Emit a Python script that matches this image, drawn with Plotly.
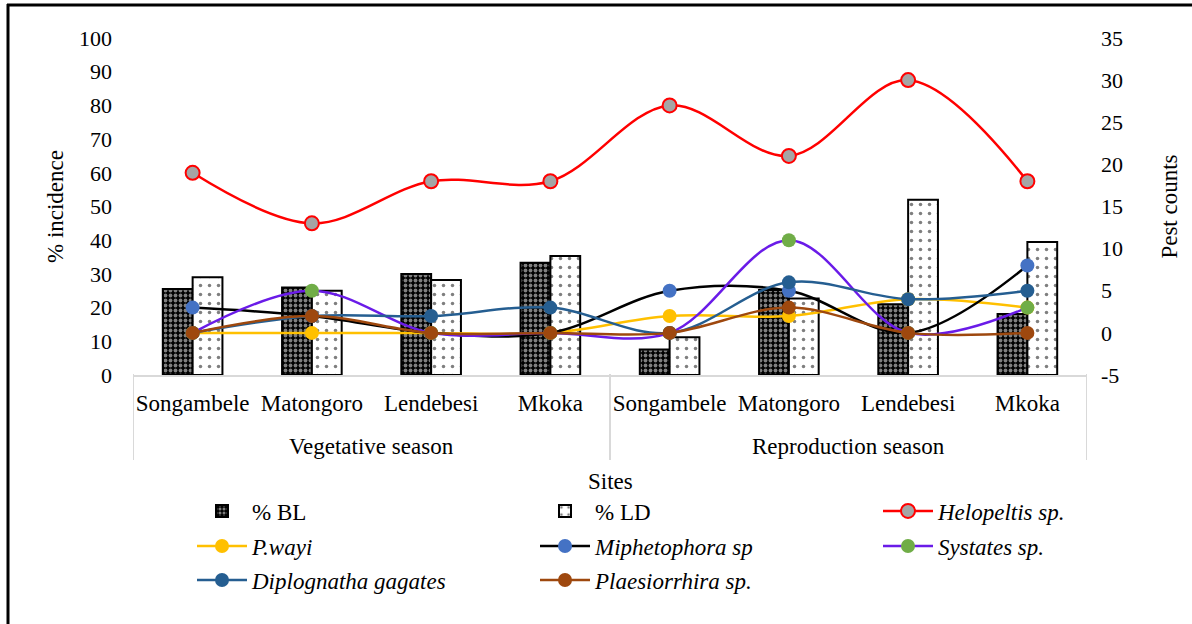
import plotly.graph_objects as go

seasons = ["Vegetative season"] * 4 + ["Reproduction season"] * 4
sites = ["Songambele", "Matongoro", "Lendebesi", "Mkoka"] * 2
bl = [25.5, 26, 30, 33.3, 7.6, 25.2, 21, 18.1]
ld = [29, 25, 28.2, 35.3, 11.2, 22.7, 52, 39.5]
helopeltis = [19, 13, 18, 18, 27, 21, 30, 18]
pwayi = [0, 0, 0, 0, 2, 2, 4, 3]
miphetophora = [3, 2, 0, 0, 5, 5, 0, 8]
systates = [0, 5, 0, 0, 0, 11, 0, 3]
diplognatha = [0, 2, 2, 3, 0, 6, 4, 5]
plaesiorrhira = [0, 2, 0, 0, 0, 3, 0, 0]
left_ticks = list(range(0, 101, 10))
right_ticks = list(range(-5, 36, 5))
right_ticktext = [str(v) for v in right_ticks]
season_names = ["Vegetative season", "Reproduction season"]

FONT = "Liberation Serif"
keys = [f"{s} | {t}" for s, t in zip(seasons, sites)]

# plot area in pixels
L, R, T, B = 133, 1087, 38, 375


def px(xp):
    return (xp - L) / (R - L)


def py(yp):
    return (B - yp) / (B - T)


fig = go.Figure()
fig.add_trace(go.Bar(
    x=keys, y=bl, name="% BL", legend="legend",
    marker=dict(color="black", line=dict(color="black", width=2),
                pattern=dict(shape=".", size=5, solidity=0.45,
                             fgcolor="white", bgcolor="black")),
))
fig.add_trace(go.Bar(
    x=keys, y=ld, name="% LD", legend="legend2",
    marker=dict(color="white", line=dict(color="black", width=2),
                pattern=dict(shape=".", size=9, solidity=0.12,
                             fgcolor="black", bgcolor="white")),
))

lines = [
    ("<i>Helopeltis sp.</i>", helopeltis, "#FF0000", "#A5A5A5", "#FF0000", "legend3"),
    ("<i>P.wayi</i>", pwayi, "#FFC000", "#FFC000", None, "legend4"),
    ("<i>Miphetophora sp</i>", miphetophora, "#000000", "#4472C4", None, "legend5"),
    ("<i>Systates sp.</i>", systates, "#6A1BE8", "#70AD47", None, "legend6"),
    ("<i>Diplognatha gagates</i>", diplognatha, "#255E91", "#255E91", None, "legend7"),
    ("<i>Plaesiorrhira sp.</i>", plaesiorrhira, "#9E480E", "#9E480E", None, "legend8"),
]
for name, vals, lc, mc, mlc, lg in lines:
    mk = dict(color=mc, size=14)
    if mlc:
        mk["line"] = dict(color=mlc, width=2)
    fig.add_trace(go.Scatter(
        x=keys, y=vals, name=name, yaxis="y2", legend=lg, mode="lines+markers",
        line=dict(color=lc, width=2.5, shape="spline", smoothing=1.0),
        marker=mk,
    ))

# legend layout: 3 columns x 3 rows
col_x = [192, 535, 878]
row_y = [511, 546, 580]
positions = [(0, 0), (1, 0), (2, 0), (0, 1), (1, 1), (2, 1), (0, 2), (1, 2)]
legend_names = ["legend"] + [f"legend{i}" for i in range(2, 9)]
legend_layout = {}
for lname, (c, r) in zip(legend_names, positions):
    legend_layout[lname] = dict(
        x=px(col_x[c]), y=py(row_y[r]), xanchor="left", yanchor="middle",
        bgcolor="rgba(0,0,0,0)", font=dict(family=FONT, size=23, color="black"),
        itemwidth=50, visible=True,
    )

annotations = [
    dict(text=season_names[0], x=1.5, xref="x", y=py(446), yref="paper",
         xanchor="center", yanchor="middle",
         showarrow=False, font=dict(family=FONT, size=23, color="black")),
    dict(text=season_names[1], x=5.5, xref="x", y=py(446), yref="paper",
         xanchor="center", yanchor="middle",
         showarrow=False, font=dict(family=FONT, size=23, color="black")),
    dict(text="Sites", x=0.5, xref="paper", y=py(481), yref="paper",
         xanchor="center", yanchor="middle",
         showarrow=False, font=dict(family=FONT, size=23, color="black")),
]

shapes = [
    dict(type="line", xref="paper", yref="paper",
         x0=px(8), x1=px(8), y0=py(4), y1=py(640),
         line=dict(color="black", width=3)),
    dict(type="line", xref="paper", yref="paper",
         x0=px(7), x1=px(1200), y0=py(5), y1=py(5),
         line=dict(color="black", width=3)),
]
for xv in [-0.5, 3.5, 7.5]:
    shapes.append(dict(type="line", xref="x", yref="paper",
                       x0=xv, x1=xv, y0=py(374), y1=py(460),
                       line=dict(color="#D9D9D9", width=2)))

fig.update_layout(
    width=1192, height=624,
    margin=dict(l=L, r=1192 - R, t=T, b=624 - B, autoexpand=False),
    paper_bgcolor="white", plot_bgcolor="white",
    font=dict(family=FONT, size=22, color="black"),
    showlegend=True,
    barmode="group", bargap=0.5, bargroupgap=0,
    xaxis=dict(
        type="category", tickvals=keys, ticktext=sites,
        range=[-0.5, 7.5], showgrid=False, zeroline=False,
        showline=True, linecolor="#D9D9D9", linewidth=2,
        ticks="", ticklabelstandoff=6,
        tickfont=dict(family=FONT, size=23, color="black"),
    ),
    yaxis=dict(
        range=[0, 100], tickvals=left_ticks, showgrid=False, zeroline=False,
        showline=False, ticks="", ticklabelstandoff=20,
        tickfont=dict(family=FONT, size=22, color="black"),
        title=dict(text="% incidence", font=dict(family=FONT, size=23), standoff=8),
    ),
    yaxis2=dict(
        range=[-5, 35], tickvals=right_ticks, ticktext=right_ticktext,
        overlaying="y", side="right",
        showgrid=False, zeroline=False, showline=False, ticks="",
        ticklabelstandoff=13,
        tickfont=dict(family=FONT, size=22, color="black"),
        title=dict(text="Pest counts", font=dict(family=FONT, size=23), standoff=38),
    ),
    shapes=shapes,
    annotations=annotations,
    **legend_layout,
)

fig.write_html("out.html", config={"displayModeBar": False},
               post_script="document.body.style.margin='0';")
